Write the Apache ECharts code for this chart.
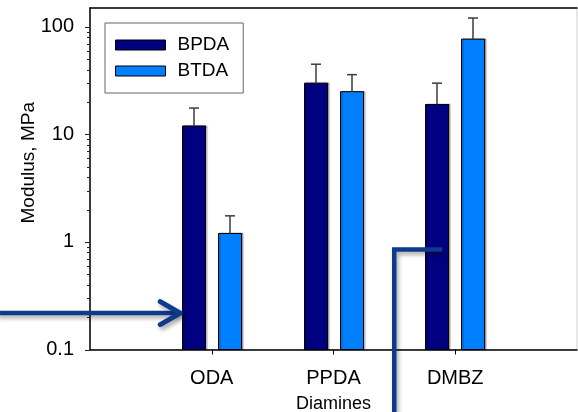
<!DOCTYPE html>
<html>
<head>
<meta charset="utf-8">
<script src="https://cdn.jsdelivr.net/npm/echarts@6/dist/echarts.min.js"></script>
<style>
  html, body { margin: 0; padding: 0; background: #fff; }
  #chart { width: 578px; height: 412px; }
</style>
</head>
<body>
<div id="chart"></div>
<script>
// Diamine categories (empty slots pad the axis on both sides)
const categories = ['', 'ODA', 'PPDA', 'DMBZ', ''];
const seriesNames = ['BPDA', 'BTDA'];

// Modulus (MPa) and top of the error bar for each dianhydride
const bpdaModulus  = [null, 12,   30, 19,  null];
const bpdaErrorTop = [null, 17.6, 45, 30,  null];
const btdaModulus  = [null, 1.2,  25, 77,  null];
const btdaErrorTop = [null, 1.75, 36, 121, null];

// Log axis decades that carry a label
const yMajorTicks = [0.1, 1, 10, 100];
const Y_MIN = 0.1;
const Y_MAX = 150;

const FONT = "'Liberation Sans', Arial, Helvetica, sans-serif";
const BAR_W = 23;
const BAR_GAP = 13;
const COLORS = ['#000080', '#0080ff'];
const ARROW_COLOR = '#0e3a8c';

// minor ticks at 2..9 within each decade
const yMinorTicks = [];
for (let d = -1; d <= 1; d++) {
  for (let m = 2; m <= 9; m++) yMinorTicks.push(+(m * Math.pow(10, d)).toPrecision(3));
}

function seriesData(values, errs) {
  return categories
    .map((c, i) => [i, values[i], errs[i]])
    .filter(d => d[1] != null);
}

function barRenderer(seriesIdx) {
  const offset = (seriesIdx - 0.5) * (BAR_W + BAR_GAP);
  return function (params, api) {
    const idx = api.value(0);
    const top = api.coord([idx, api.value(1)]);
    const base = api.coord([idx, Y_MIN]);
    const err = api.coord([idx, api.value(2)]);
    const cx = Math.round(top[0] + offset);
    const errStyle = { stroke: '#3c3c3c', lineWidth: 1.5 };
    return {
      type: 'group',
      children: [
        {
          type: 'rect',
          shape: { x: cx - BAR_W / 2, y: top[1], width: BAR_W, height: base[1] - top[1] },
          style: {
            fill: COLORS[seriesIdx], stroke: '#000', lineWidth: 1,
            shadowColor: 'rgba(0,0,0,0.3)', shadowOffsetX: 1.5, shadowOffsetY: 0, shadowBlur: 1
          }
        },
        { type: 'line', shape: { x1: cx, y1: top[1], x2: cx, y2: err[1] }, style: errStyle },
        { type: 'line', shape: { x1: cx - 5, y1: err[1], x2: cx + 5, y2: err[1] }, style: errStyle }
      ]
    };
  };
}

function tickRenderer(params, api) {
  const p = api.coord([0, api.value(1)]);
  const len = api.value(2);
  const y = Math.round(p[1]) + 0.5;
  return {
    type: 'line',
    shape: { x1: p[0] - len, y1: y, x2: p[0], y2: y },
    style: { stroke: '#222', lineWidth: 1 }
  };
}

const tickData = yMajorTicks.map(v => [0, v, 5]).concat(yMinorTicks.map(v => [0, v, 3]));

const chart = echarts.init(document.getElementById('chart'), null, { renderer: 'canvas' });

chart.setOption({
  animation: false,
  backgroundColor: '#fff',
  textStyle: { fontFamily: FONT },
  grid: {
    left: 90, right: 1, top: 8, bottom: 62.5,
    containLabel: false,
    outerBoundsMode: 'none',
    show: true, borderColor: '#cfcfcf', borderWidth: 1, backgroundColor: 'transparent'
  },
  legend: {
    data: seriesNames,
    orient: 'vertical',
    left: 105, top: 23,
    padding: [12, 14, 12, 10],
    itemGap: 6,
    itemWidth: 50,
    itemHeight: 10,
    icon: 'rect',
    borderColor: '#666', borderWidth: 1,
    itemStyle: { borderColor: '#000', borderWidth: 1 },
    textStyle: { fontFamily: FONT, fontSize: 19, color: '#000', lineHeight: 20, padding: [0, 0, 0, 7] }
  },
  xAxis: [
    {
      type: 'category',
      data: categories,
      boundaryGap: false,
      position: 'bottom',
      axisLine: { lineStyle: { color: '#000', width: 1.5 } },
      axisTick: {
        length: 5,
        interval: (i) => categories[i] !== '',
        lineStyle: { color: '#000' }
      },
      axisLabel: { interval: 0, fontSize: 20, color: '#000', margin: 19, fontFamily: FONT },
      splitLine: { show: false },
      name: 'Diamines',
      nameLocation: 'middle',
      nameGap: 46,
      nameMoveOverlap: false,
      nameTextStyle: { fontSize: 18, color: '#000', fontFamily: FONT }
    },
    {
      type: 'category',
      data: categories,
      boundaryGap: false,
      position: 'top',
      axisLine: { lineStyle: { color: '#000', width: 1.5 } },
      axisTick: { show: false },
      axisLabel: { show: false },
      splitLine: { show: false }
    }
  ],
  yAxis: {
    type: 'log',
    logBase: 10,
    min: Y_MIN,
    max: Y_MAX,
    axisLine: { show: true, lineStyle: { color: '#000', width: 1.5 } },
    axisTick: { show: false },
    minorTick: { show: false },
    splitLine: { show: false },
    axisLabel: {
      fontSize: 20, color: '#000', margin: 16, fontFamily: FONT,
      showMaxLabel: false,
      formatter: (v) => {
        const hit = yMajorTicks.find(t => Math.abs(t - v) / t < 1e-6);
        return hit === undefined ? '' : String(hit);
      }
    },
    name: 'Modulus, MPa',
    nameLocation: 'middle',
    nameGap: 52,
    nameMoveOverlap: false,
    nameRotate: 90,
    nameTextStyle: { fontSize: 19, color: '#000', fontFamily: FONT, padding: [0, 0, 0, 32] }
  },
  series: [
    {
      name: seriesNames[0],
      type: 'custom',
      renderItem: barRenderer(0),
      itemStyle: { color: COLORS[0], borderColor: '#000', borderWidth: 1 },
      encode: { x: 0, y: 1 },
      data: seriesData(bpdaModulus, bpdaErrorTop),
      z: 3
    },
    {
      name: seriesNames[1],
      type: 'custom',
      renderItem: barRenderer(1),
      itemStyle: { color: COLORS[1], borderColor: '#000', borderWidth: 1 },
      encode: { x: 0, y: 1 },
      data: seriesData(btdaModulus, btdaErrorTop),
      z: 3
    },
    {
      name: 'y-ticks',
      type: 'custom',
      renderItem: tickRenderer,
      encode: { x: 0, y: 1 },
      data: tickData,
      silent: true,
      clip: false,
      z: 4
    }
  ]
});

// Annotation arrows, anchored in data space
function drawArrows() {
  const tipRef = chart.convertToPixel({ gridIndex: 0 }, [1, 0.218]);
  const tipX = tipRef[0] - (BAR_W + BAR_GAP) / 2 - BAR_W / 2 - 1;
  const tipY = tipRef[1];
  const cornerRef = chart.convertToPixel({ gridIndex: 0 }, [3, 0.85]);
  const cornerX = cornerRef[0] - 61;
  const endX = cornerRef[0] - 13;
  const cornerY = cornerRef[1];
  const shadow = { shadowColor: 'rgba(0,0,0,0.35)', shadowBlur: 4, shadowOffsetX: 2, shadowOffsetY: 3 };
  chart.setOption({
    graphic: [
      {
        type: 'polyline', z: 100,
        shape: { points: [[-4, tipY], [tipX - 3, tipY]] },
        style: Object.assign({ stroke: ARROW_COLOR, lineWidth: 4.5, fill: null, lineCap: 'butt' }, shadow)
      },
      {
        type: 'polyline', z: 100,
        shape: { points: [[tipX - 21, tipY - 11.5], [tipX - 1, tipY], [tipX - 21, tipY + 11.5]] },
        style: Object.assign({ stroke: ARROW_COLOR, lineWidth: 5, fill: null, lineCap: 'round', lineJoin: 'round' }, shadow)
      },
      {
        type: 'polyline', z: 100,
        shape: { points: [[cornerX, 420], [cornerX, cornerY], [endX, cornerY]] },
        style: Object.assign({ stroke: ARROW_COLOR, lineWidth: 4.5, fill: null, lineCap: 'butt', lineJoin: 'miter' }, shadow)
      }
    ]
  });
}
drawArrows();
</script>
</body>
</html>
